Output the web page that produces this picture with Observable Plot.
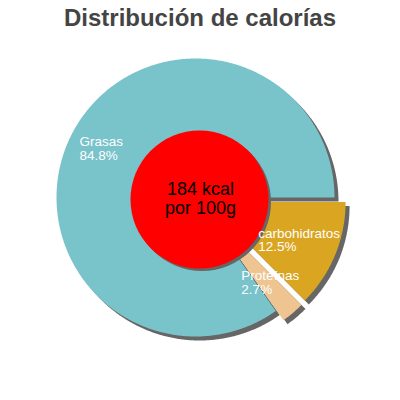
<!DOCTYPE html>
<html><head><meta charset="utf-8">
<script src="https://cdn.jsdelivr.net/npm/d3@7"></script>
<script src="https://cdn.jsdelivr.net/npm/@observablehq/plot@0.6"></script>
<style>
body{margin:0;background:#fff;width:400px;height:400px;overflow:hidden;font-family:"Liberation Sans",Arial,sans-serif}
#title{height:40px;line-height:35px;text-align:center;font-size:24px;font-weight:bold;color:#444;white-space:nowrap}
#chart svg{display:block}
</style></head><body>
<div id="title">Distribución de calorías</div>
<div id="chart"></div>
<script>
// ---- data ----
const names = ["Grasas", "carbohidratos", "Proteínas"];
const percents = [84.8, 12.5, 2.7];
const colors = ["#79c3cb", "#daa520", "#eec591"];
const exploded = [false, true, true];
const centerLines = ["184 kcal", "por 100g"];

// ---- layout ----
const R = 139, EXPLODE = 12, SHADOW = 4, HOLE = 69;
const holeOffset = {dx: 4, dy: 2};
const order = [1, 2, 0]; // clockwise from 3 o'clock
const labelShiftDeg = [-9.35, 21.2, 16.5];
const labelFrac = [0.878, 0.514, 0.684];

const pie = d3.pie().sort(null).value(i => percents[i])
  .startAngle(Math.PI / 2).endAngle(Math.PI / 2 + 2 * Math.PI);
const slices = pie(order).map(a => {
  const i = a.data;
  const mid = (a.startAngle + a.endAngle) / 2;
  const off = exploded[i] ? EXPLODE : 0;
  return {i, start: a.startAngle, end: a.endAngle, mid, cx: off * Math.sin(mid), cy: off * Math.cos(mid)};
});
const pts = [];
for (const s of slices) {
  pts.push({name: names[s.i], x: s.cx, y: s.cy});
  const n = Math.max(2, Math.ceil((s.end - s.start) / (Math.PI / 360)));
  for (let k = 0; k <= n; k++) {
    const t = s.start + (s.end - s.start) * k / n;
    pts.push({name: names[s.i], x: s.cx + R * Math.sin(t), y: s.cy + R * Math.cos(t)});
  }
}
const labelData = slices.map(s => {
  const a = s.mid + labelShiftDeg[s.i] * Math.PI / 180;
  const r = labelFrac[s.i] * R;
  return {text: names[s.i] + "\n" + percents[s.i] + "%", x: s.cx + r * Math.sin(a), y: s.cy + r * Math.cos(a)};
});
const hole = [{x: 0, y: 0, t: centerLines.join("\n")}];

const chart = Plot.plot({
  width: 400, height: 360,
  margin: 0,
  x: {domain: [-195, 205], axis: null},
  y: {domain: [-203, 157], axis: null},
  color: {domain: names, range: colors},
  style: {fontFamily: "Liberation Sans, Arial, sans-serif", background: "white"},
  marks: [
    Plot.line(pts, {x: "x", y: "y", z: "name", fill: "#666", stroke: null, curve: "linear-closed", dx: SHADOW, dy: SHADOW}),
    Plot.line(pts, {x: "x", y: "y", z: "name", fill: "name", stroke: null, curve: "linear-closed"}),
    Plot.dot(hole, {x: "x", y: "y", r: HOLE, fill: "#666", stroke: null, dx: holeOffset.dx + 2.5, dy: holeOffset.dy + 2.5}),
    Plot.dot(hole, {x: "x", y: "y", r: HOLE, fill: "red", stroke: null, dx: holeOffset.dx, dy: holeOffset.dy}),
    Plot.text(hole, {x: "x", y: "y", text: "t", fill: "black", fontSize: 18, lineHeight: 1.08, dx: holeOffset.dx + 1, dy: holeOffset.dy - 1}),
    Plot.text(labelData, {x: "x", y: "y", text: "text", fill: "white", fontSize: 13.5, textAnchor: "start", lineAnchor: "bottom", lineHeight: 1.0, style: {letterSpacing: "0.3px"}})
  ]
});
document.getElementById("chart").appendChild(chart);
</script>
</body></html>
